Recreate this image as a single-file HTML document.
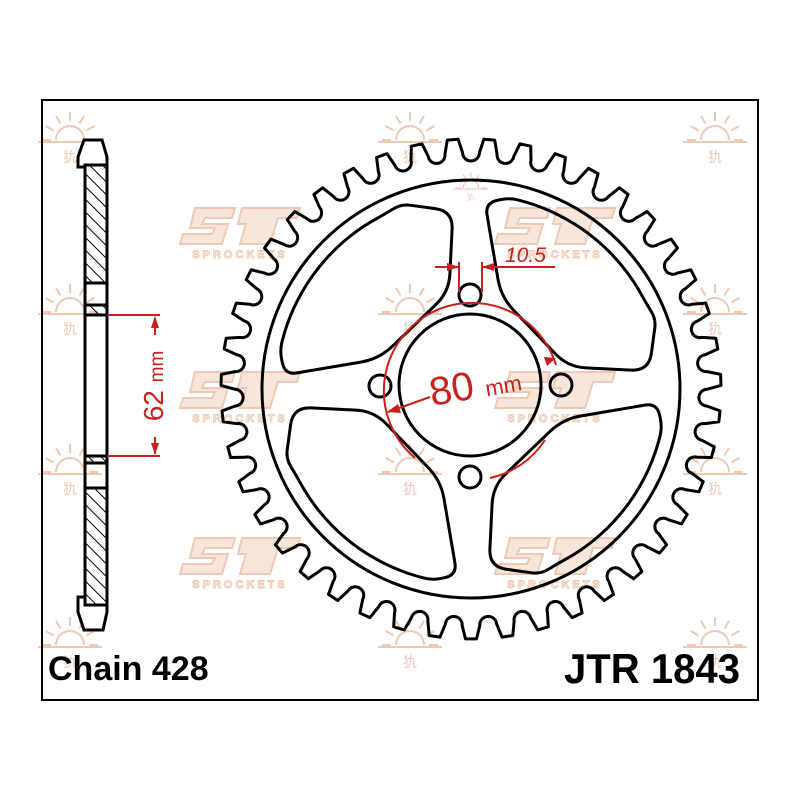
<!DOCTYPE html>
<html><head><meta charset="utf-8">
<style>
html,body{margin:0;padding:0;background:#fff;}
svg{display:block;}
</style></head>
<body>
<svg id="s" width="800" height="800" viewBox="0 0 800 800" xmlns="http://www.w3.org/2000/svg">
<defs>
<pattern id="hatch" patternUnits="userSpaceOnUse" width="9" height="9" patternTransform="rotate(-45)">
<line x1="0" y1="0" x2="0" y2="9" stroke="#000" stroke-width="2"/>
</pattern>
</defs>
<rect x="0" y="0" width="800" height="800" fill="#fff"/>
<g id="wm" fill="none" stroke="#efc9b3" stroke-width="2"></g>
<rect x="42" y="100" width="716" height="600" fill="none" stroke="#000" stroke-width="2"/>

<!-- side profile -->
<g stroke="#000" stroke-width="3" fill="none">
<path d="M84,140 L102,140 L107,157 L107,165 L85,165 L85,167 L78,167 L78,157 Z" fill="#fff"/>
<rect x="85" y="165" width="22" height="118" fill="url(#hatch)"/>
<rect x="85" y="305" width="22" height="10" fill="url(#hatch)"/>
<rect x="85" y="456" width="22" height="7" fill="url(#hatch)"/>
<rect x="85" y="488" width="22" height="117" fill="url(#hatch)"/>
<line x1="85" y1="165" x2="85" y2="605"/>
<line x1="107" y1="165" x2="107" y2="605"/>
<path d="M78,597 L85,597 L85,605 L107,605 L107,612 L103,630 L84,630 L78,612 Z" fill="#fff"/>
</g>
<g stroke="#c8201c" stroke-width="2" fill="#c8201c">
<line x1="107" y1="315" x2="160" y2="315"/>
<line x1="107" y1="456" x2="160" y2="456"/>
<line x1="155" y1="318" x2="155" y2="335"/>
<line x1="155" y1="437" x2="155" y2="454"/>
<path d="M155,316 L151,328 L159,328 Z" stroke="none"/>
<path d="M155,455 L151,443 L159,443 Z" stroke="none"/>
</g>
<text x="0" y="0" transform="translate(163,386) rotate(-90)" text-anchor="middle" font-family="Liberation Sans, sans-serif" font-size="28" fill="#c8201c">62 <tspan font-size="19">mm</tspan></text>

<!-- sprocket -->
<g id="sp" stroke="#000" stroke-width="3" fill="none"></g>

<!-- red dims -->
<g stroke="#c8201c" stroke-width="2" fill="none">
<path d="M556,365 A88,88 0 1 0 415,458"/>
<path d="M545,440 A88,88 0 0 1 490,478"/>
<line x1="459" y1="262" x2="459" y2="292"/>
<line x1="482" y1="262" x2="482" y2="292"/>
<line x1="435" y1="267" x2="459" y2="267"/>
<line x1="482" y1="267" x2="555" y2="267"/>
<line x1="388" y1="412" x2="430" y2="397"/>
</g>
<g fill="#c8201c">
<path d="M459,267 L447,263 L447,271 Z"/>
<path d="M482,267 L494,263 L494,271 Z"/>
<path d="M556,358 L544,357 L547,366 Z"/>
<path d="M387,412 L398,404 L401,413 Z"/>
</g>
<text x="505" y="262" font-family="Liberation Sans, sans-serif" font-style="italic" font-size="21" fill="#c8201c">10.5</text>
<text x="0" y="0" transform="translate(432,406) rotate(-10)" font-family="Liberation Sans, sans-serif" font-size="40" fill="#c8201c">80 <tspan font-size="22">mm</tspan></text>

<text x="48" y="680" font-family="Liberation Sans, sans-serif" font-weight="bold" font-size="34" fill="#000">Chain 428</text>
<text x="740" y="683" text-anchor="end" font-family="Liberation Sans, sans-serif" font-weight="bold" font-size="42" fill="#000" textLength="176" lengthAdjust="spacingAndGlyphs">JTR 1843</text>
</svg>
<script>
(function(){
var NS="http://www.w3.org/2000/svg";
var cx=471, cy=389;
var sp=document.getElementById('sp');
function el(tag,attrs,parent){var e=document.createElementNS(NS,tag);for(var k in attrs)e.setAttribute(k,attrs[k]);parent.appendChild(e);return e;}
var N=43, p=2*Math.PI/N, pts=[];
var rc=236.5, rr=8.5, rt=250;
for(var i=0;i<N;i++){
  var th=i*p - Math.PI/2;
  var vx=cx+rc*Math.cos(th), vy=cy+rc*Math.sin(th);
  for(var k=0;k<=10;k++){
    var a=th-Math.PI/2 - k*Math.PI/10;
    pts.push([vx+rr*Math.cos(a), vy+rr*Math.sin(a)]);
  }
  var t1=th+p/2-0.022, t2=th+p/2+0.022;
  pts.push([cx+rt*Math.cos(t1), cy+rt*Math.sin(t1)]);
  pts.push([cx+rt*Math.cos(t2), cy+rt*Math.sin(t2)]);
}
var d="M"+pts.map(function(q){return q[0].toFixed(1)+","+q[1].toFixed(1);}).join(" L")+" Z";
el('path',{d:d,'stroke-linejoin':'round'},sp);
el('circle',{cx:cx,cy:cy,r:209},sp);
el('circle',{cx:470,cy:385,r:71},sp);
[[470,295],[380,386],[561,385],[470,477]].forEach(function(c){el('circle',{cx:c[0],cy:c[1],r:11},sp);});
function roundPoly(P,R){
  var n=P.length,s="";
  for(var i=0;i<n;i++){
    var a=P[(i-1+n)%n],b=P[i],c=P[(i+1)%n];
    var l1=Math.hypot(b[0]-a[0],b[1]-a[1]), l2=Math.hypot(c[0]-b[0],c[1]-b[1]);
    var r=Math.min(R,l1/2,l2/2);
    var p1=[b[0]+(a[0]-b[0])*r/l1,b[1]+(a[1]-b[1])*r/l1];
    var p2=[b[0]+(c[0]-b[0])*r/l2,b[1]+(c[1]-b[1])*r/l2];
    s+=(i==0?"M":"L")+p1[0].toFixed(1)+","+p1[1].toFixed(1)+" Q"+b[0].toFixed(1)+","+b[1].toFixed(1)+" "+p2[0].toFixed(1)+","+p2[1].toFixed(1)+" ";
  }
  return s+"Z";
}
var W=[[92,30],[186,14]];
var a0=Math.atan2(20,190), a1=Math.atan2(185,70);
for(var k=1;k<12;k++){var a=a0+(a1-a0)*k/12;W.push([195*Math.cos(a),195*Math.sin(a)]);}
W.push([70,185]);W.push([18,178]);W.push([22,97]);
for(var r=0;r<4;r++){
  var ang=r*Math.PI/2, c=Math.cos(ang), s=Math.sin(ang);
  var P=W.map(function(q){return [cx+q[0]*c-q[1]*s, cy+q[0]*s+q[1]*c];});
  el('path',{d:roundPoly(P,18)},sp);
}
var wm=document.getElementById('wm');
function sun(x,y,sc){
  var g=el('g',{transform:'translate('+x+','+y+') scale('+sc+')'},wm);
  el('path',{d:'M-14,0 A14,14 0 0 1 14,0'},g);
  el('line',{x1:-32,y1:2,x2:32,y2:2},g);
  for(var k=0;k<7;k++){var a=Math.PI+k*Math.PI/6;el('line',{x1:19*Math.cos(a),y1:19*Math.sin(a),x2:28*Math.cos(a),y2:28*Math.sin(a)},g);}
  var t=el('text',{x:0,y:22,'text-anchor':'middle','font-size':14,fill:'#efc9b3',stroke:'none','font-family':'Noto Sans CJK SC, sans-serif'},g);t.textContent='犰';
}
[[70,140],[410,140],[715,140],[70,312],[410,312],[715,312],[70,472],[410,472],[715,472],[70,645],[410,645],[715,645]].forEach(function(q){sun(q[0],q[1],1);});
sun(471,188,0.55);
function logo(x,y){
  var g=el('g',{transform:'translate('+x+','+y+')',fill:'#f8e6da'},wm);
  el('path',{d:'M15,0 L55,0 L52,10 L25,10 L22,16 L48,16 L42,36 L0,36 L3,26 L32,26 L35,20 L10,20 Z'},g);
  el('path',{d:'M62,0 L120,0 L117,10 L98,10 L90,36 L60,36 L66,16 L58,16 Z'},g);
  var t=el('text',{x:60,y:50,'text-anchor':'middle','font-size':11,'font-weight':'bold','letter-spacing':'3',fill:'none',stroke:'#efc9b3','stroke-width':1,'font-family':'Liberation Sans, sans-serif'},g);t.textContent='SPROCKETS';
}
[[180,208],[495,208],[180,372],[495,372],[180,538],[495,538]].forEach(function(q){logo(q[0],q[1]);});
})();
</script>
</body></html>
